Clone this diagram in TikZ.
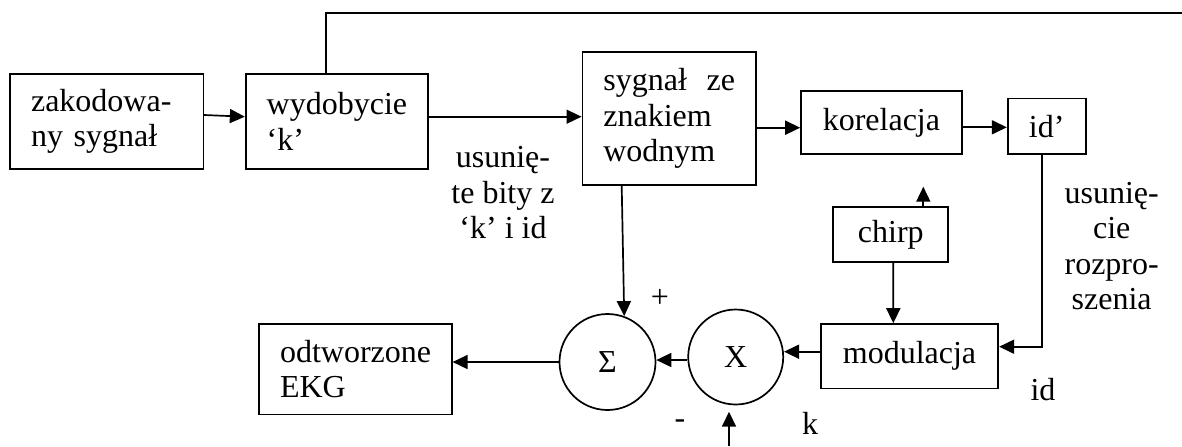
\documentclass[tikz,border=0pt]{standalone}
\usepackage{fontspec}
\setmainfont{Liberation Serif}
\usetikzlibrary{arrows.meta,calc}
\newcommand\dfont{\fontsize{16}{17.75}\selectfont}
\tikzset{
  box/.style={draw, line width=0.85pt, rectangle, inner ysep=0pt, font=\dfont},
  lbox/.style={box, align=left, inner xsep=10.5pt},
  cbox/.style={box, align=center, inner xsep=0pt},
  circ/.style={draw, circle, line width=0.85pt, inner sep=0pt, font=\dfont},
  arr/.style={line width=0.85pt, -{Triangle[length=7.5pt,width=7pt]}},
  ln/.style={line width=0.85pt},
  lab/.style={font=\dfont, align=center, inner sep=0pt}
}
\begin{document}
\begin{tikzpicture}[x=0.5pt,y=-0.5pt]
\useasboundingbox (0,0) rectangle (1182,446);
% boxes
\node[lbox, text width=75.65pt, minimum width=96.65pt, minimum height=47.2pt] (zak) at (106.7,121.5) {\mbox{zakodowa-}\\ny sygnał};
\node[lbox, text width=70.3pt, minimum width=91.3pt, minimum height=47.2pt] (wyd) at (337,121.5) {\mbox{wydobycie}\\‘k’};
\node[lbox, text width=65.85pt, minimum width=86.85pt, minimum height=66.65pt] (syg) at (669.2,118.4) {\hbox to \hsize{sygnał\hfill ze}\\znakiem\\wodnym};
\node[cbox, minimum width=80.35pt, minimum height=31.65pt] (kor) at (881.4,122.4) {korelacja};
\node[cbox, minimum width=39pt, minimum height=27.85pt] (idp) at (1046.7,126.2) {id’};
\node[cbox, minimum width=57.5pt, minimum height=27.8pt] (chirp) at (890.8,234.5) {chirp};
\node[cbox, minimum width=88.8pt, minimum height=32.15pt] (mod) at (909.5,356.2) {modulacja};
\node[lbox, text width=75.35pt, minimum width=96.35pt, minimum height=45.15pt] (odt) at (355.4,369.2) {\mbox{odtworzone}\\EKG};
\node[circ, minimum size=48pt] (sum) at (607.5,362) {Σ};
\node[circ, minimum size=47.5pt] (xc) at (735.7,357) {X};
% labels
\node[lab] (lab1) at (503,193) {usunię-\\te bity z\\‘k’ i id};
\node[lab] (lab2) at (1111.7,246) {usunię-\\cie\\rozpro-\\szenia};
\node[lab] (plus) at (660,298) {+};
\node[lab] (minus) at (680,424) {-};
\node[lab] (klab) at (810,423) {k};
\node[lab] (idlab) at (1043,390) {id};
% free ends
\coordinate (topend) at (1182,12.7);
\coordinate (chup) at (923.3,186.7);
\coordinate (xbot) at (729,446);
\coordinate (xtip) at (729,411.7);
% connectors
\draw[arr] ($(zak.east)+(0,-6.5)$) -- ($(wyd.west)+(0,-4.8)$);
\draw[ln] ($(wyd.north)+(-11.3,0)$) |- (topend);
\draw[arr] ($(wyd.east)+(0,-4.8)$) -- ($(syg.west)+(0,-1.7)$);
\draw[arr] ($(syg.east)+(0,9.3)$) -- ($(kor.west)+(0,5.3)$);
\draw[arr] ($(kor.east)+(0,4.9)$) -- ($(idp.west)+(0,1.1)$);
\draw[arr] ($(idp.south)+(-5,0)$) |- ($(mod.east)+(0,-9.5)$);
\draw[arr] (chirp.north -| chup) -- (chup);
\draw[arr] ($(chirp.south)+(2.5,0)$) -- ($(mod.north)+(-16.2,0)$);
\draw[arr] ($(syg.south)+(-47.5,0)$) -- (sum.70.8);
\draw[arr] ($(mod.west)+(0,-4.5)$) coordinate (mw) -- (mw -| xc.east);
\draw[arr] ($(xc.west)+(0,3)$) coordinate (xw) -- (xw -| sum.east);
\draw[arr] (sum.west) -- (sum.west -| odt.east);
\draw[arr] (xbot) -- (xtip);
\end{tikzpicture}
\end{document}
